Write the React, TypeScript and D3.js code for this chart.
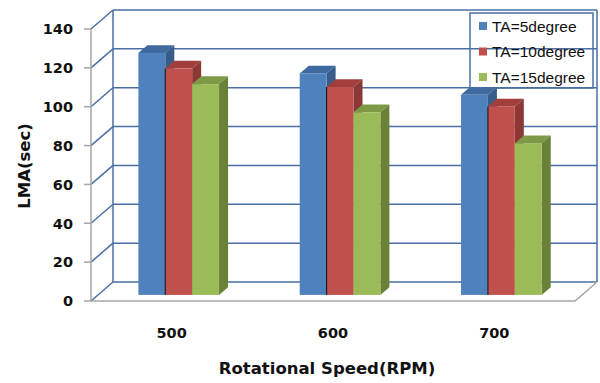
import * as d3 from "d3";
import React, { useEffect, useRef } from "react";

const categories = ["500", "600", "700"];
const seriesNames = ["TA=5degree", "TA=10degree", "TA=15degree"];
const ta5 = [124.5, 114, 103];
const ta10 = [116.5, 107, 97];
const ta15 = [108.5, 94, 78];
const yTicks = [0, 20, 40, 60, 80, 100, 120, 140];

const front = ["#4f81bd", "#c0504d", "#9bbb59"];
const side = ["#385d8a", "#8c3836", "#6a8238"];
const top = ["#3f6aa0", "#a23f3c", "#7e9a46"];

export default function App() {
  const svgRef = useRef<SVGSVGElement>(null);

  useEffect(() => {
    const W = 600;
    const H = 383;
    const svg = d3.select(svgRef.current).attr("width", W).attr("height", H);
    svg.selectAll("*").remove();

    // 3d box: front plane + depth offset
    const left = 91;
    const right = 575;
    const dx = 22;
    const dy = -19;
    const y = d3.scaleLinear().domain([0, 140]).range([301, 29]);
    const x = d3.scaleBand().domain(categories).range([left, right]).paddingInner(0.5).paddingOuter(0.25);

    const gridColor = "#4a6fa5";
    const textColor = "#111";
    const g = svg.append("g");

    // back wall gridlines
    yTicks.forEach((t) => {
      if (t === 0) return;
      g.append("line")
        .attr("x1", left + dx).attr("x2", right + dx)
        .attr("y1", y(t) + dy).attr("y2", y(t) + dy)
        .attr("stroke", gridColor).attr("stroke-width", 1.5);
    });
    // side wall diagonals
    yTicks.forEach((t) => {
      g.append("line")
        .attr("x1", left).attr("x2", left + dx)
        .attr("y1", y(t)).attr("y2", y(t) + dy)
        .attr("stroke", gridColor).attr("stroke-width", 1.5);
    });
    // back wall verticals
    [left + dx, right + dx].forEach((xx) => {
      g.append("line")
        .attr("x1", xx).attr("x2", xx)
        .attr("y1", y(140) + dy).attr("y2", y(0) + dy)
        .attr("stroke", gridColor).attr("stroke-width", 1.5);
    });
    // back floor line
    g.append("line")
      .attr("x1", left + dx).attr("x2", right + dx)
      .attr("y1", y(0) + dy).attr("y2", y(0) + dy)
      .attr("stroke", gridColor).attr("stroke-width", 1.5);

    // floor front + right edge
    g.append("path")
      .attr("d", `M${left},${y(0)}L${right},${y(0)}L${right + dx},${y(0) + dy}`)
      .attr("fill", "none").attr("stroke", "#a6a6a6").attr("stroke-width", 1.5);

    // front y axis
    g.append("line")
      .attr("x1", left).attr("x2", left).attr("y1", y(0)).attr("y2", y(140))
      .attr("stroke", "#a6a6a6").attr("stroke-width", 1.5);
    yTicks.forEach((t) => {
      g.append("line")
        .attr("x1", left - 7).attr("x2", left).attr("y1", y(t)).attr("y2", y(t))
        .attr("stroke", "#a6a6a6").attr("stroke-width", 1.5);
      g.append("text")
        .attr("x", 73).attr("y", y(t)).attr("dy", "0.36em")
        .attr("text-anchor", "end")
        .attr("font-family", "DejaVu Sans").attr("font-weight", "bold").attr("font-size", 14.5)
        .attr("fill", textColor)
        .text(t);
    });

    // bars
    const series = [ta5, ta10, ta15];
    const zFront = 0.32;
    const zDepth = 0.41;
    const ox = dx * zFront;
    const oy = dy * zFront;
    const bdx = dx * zDepth;
    const bdy = dy * zDepth;
    const bw = x.bandwidth() / 3;
    categories.forEach((c, ci) => {
      series.forEach((vals, si) => {
        const x0 = (x(c) as number) + si * bw + ox;
        const x1 = x0 + bw;
        const yb = y(0) + oy;
        const yt = y(vals[ci]) + oy;
        // top
        g.append("path")
          .attr("d", `M${x0},${yt}L${x1},${yt}L${x1 + bdx},${yt + bdy}L${x0 + bdx},${yt + bdy}Z`)
          .attr("fill", top[si]);
        // side
        g.append("path")
          .attr("d", `M${x1},${yt}L${x1 + bdx},${yt + bdy}L${x1 + bdx},${yb + bdy}L${x1},${yb}Z`)
          .attr("fill", side[si]);
        // front
        g.append("rect")
          .attr("x", x0).attr("y", yt).attr("width", bw).attr("height", yb - yt)
          .attr("fill", front[si]);
        if (si === 1) {
          g.append("line")
            .attr("x1", x0).attr("x2", x0).attr("y1", yt).attr("y2", yb)
            .attr("stroke", "#111").attr("stroke-width", 1);
        }
      });
    });

    // x labels
    categories.forEach((c) => {
      g.append("text")
        .attr("x", (x(c) as number) + x.bandwidth() / 2).attr("y", 338)
        .attr("text-anchor", "middle")
        .attr("font-family", "DejaVu Sans").attr("font-weight", "bold").attr("font-size", 14.5)
        .attr("fill", textColor)
        .text(c);
    });

    // axis titles
    g.append("text")
      .attr("x", 327).attr("y", 374)
      .attr("text-anchor", "middle")
      .attr("font-family", "DejaVu Sans").attr("font-weight", "bold").attr("font-size", 16.5)
      .attr("fill", textColor)
      .text("Rotational Speed(RPM)");
    g.append("text")
      .attr("transform", "translate(30,166) rotate(-90)")
      .attr("text-anchor", "middle")
      .attr("font-family", "DejaVu Sans").attr("font-weight", "bold").attr("font-size", 16.5)
      .attr("fill", textColor)
      .text("LMA(sec)");

    // legend
    const lg = g.append("g").attr("transform", "translate(470,13)");
    lg.append("rect")
      .attr("width", 123).attr("height", 75)
      .attr("fill", "none").attr("stroke", gridColor).attr("stroke-width", 1.5);
    seriesNames.forEach((n, i) => {
      const cy = 13 + i * 25.5;
      lg.append("rect")
        .attr("x", 9).attr("y", cy - 4).attr("width", 8).attr("height", 8)
        .attr("fill", front[i]);
      lg.append("text")
        .attr("x", 22).attr("y", cy).attr("dy", "0.36em")
        .attr("font-family", "Liberation Sans").attr("font-size", 15.5)
        .attr("fill", textColor)
        .text(n);
    });
  }, []);

  return (
    <div style={{ position: "absolute", left: 0, top: 0 }}>
      <svg ref={svgRef}></svg>
    </div>
  );
}
